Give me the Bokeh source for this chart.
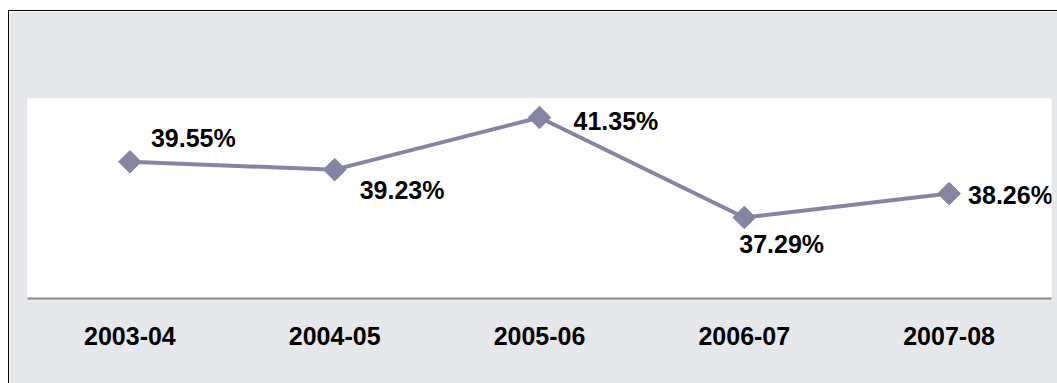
import math
from bokeh.plotting import figure
from bokeh.models import ColumnDataSource, Range1d
from bokeh.core.properties import value
from bokeh.embed import file_html
from bokeh.resources import INLINE

years = ["2003-04", "2004-05", "2005-06", "2006-07", "2007-08"]
shares = [39.55, 39.23, 41.35, 37.29, 38.26]
labels = ["39.55%", "39.23%", "41.35%", "37.29%", "38.26%"]

# label placement (screen px) relative to each point
label_dx = [21, 25, 34, -5, 19]
label_dy = [-24, 20, 4, 27, 1]

src = ColumnDataSource(dict(x=years, y=shares, t=labels, dx=label_dx, dy=label_dy))

p = figure(width=1049, height=373, x_range=years, y_range=Range1d(34.0, 42.12),
           output_backend="svg", toolbar_location=None,
           min_border_left=18, min_border_right=7, min_border_top=87, min_border_bottom=86)
p.margin = (10, 0, 0, 8)
p.styles = {"border-left": "1px solid black", "border-top": "1px solid black"}
p.border_fill_color = "#e5e7ea"
p.background_fill_color = "white"
p.outline_line_color = None
p.grid.visible = False
p.yaxis.visible = False

ax = p.xaxis[0]
ax.axis_line_color = "#8a8a8a"
ax.axis_line_width = 2
ax.major_tick_line_color = None
ax.minor_tick_line_color = None
ax.major_label_text_font = "Liberation Sans"
ax.major_label_text_font_style = "bold"
ax.major_label_text_font_size = "25px"
ax.major_label_text_color = "black"
ax.major_label_standoff = 22

p.line("x", "y", source=src, line_color="#8584a3", line_width=4)
p.scatter("x", "y", source=src, marker="square", size=16, angle=math.pi / 4,
          fill_color="#8584a3", line_color="#8584a3")
p.text("x", "y", text="t", source=src, x_offset="dx", y_offset="dy",
       text_font=value("Liberation Sans"), text_font_style="bold",
       text_font_size="25px", text_color="black", text_baseline="middle",
       text_align="left")

open("out.html", "w").write(file_html(p, INLINE))
